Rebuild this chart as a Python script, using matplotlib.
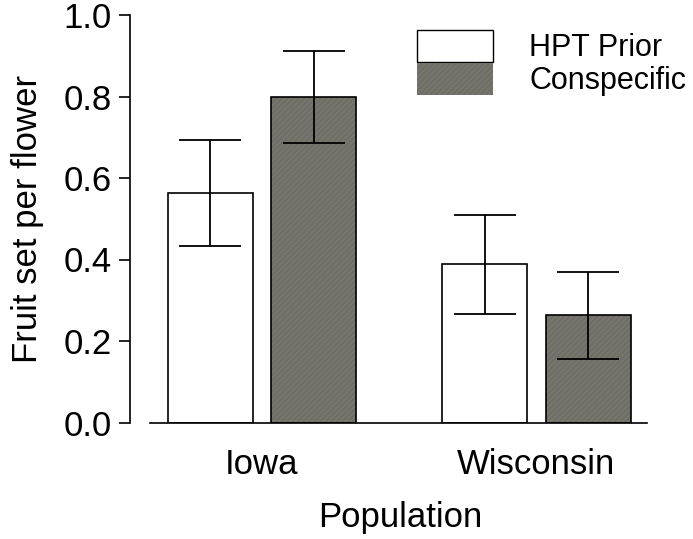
import numpy as np
import matplotlib
matplotlib.use("Agg")
import matplotlib.pyplot as plt
from matplotlib.patches import Patch

plt.rcParams['font.family'] = ['Liberation Sans', 'DejaVu Sans']
plt.rcParams['hatch.linewidth'] = 0.6

# data
populations = ['Iowa', 'Wisconsin']
treatments = ['HPT Prior', 'Conspecific']
hpt_prior = np.array([0.563, 0.388])
hpt_err = np.array([0.131, 0.122])
conspecific = np.array([0.799, 0.263])
consp_err = np.array([0.112, 0.107])

gray = '#6f6f67'

fig = plt.figure(figsize=(6.93, 5.39), dpi=100)
# axes: spine at x=130, 0 at y=422.5, 1.0 at y=15
ax = fig.add_axes([130 / 693, 1 - 422.5 / 539, (647 - 130) / 693, (422.5 - 15) / 539])

x = np.arange(len(populations))
w = 0.31
off = 0.189

# white bars
ax.bar(x - off, hpt_prior, w, color='white', edgecolor='black', linewidth=1.2)
# gray bars with faint diagonal texture
ax.bar(x + off, conspecific, w, color=gray, edgecolor='#7e7e76', hatch='//////', linewidth=0)
ax.bar(x + off, conspecific, w, color='none', edgecolor='black', linewidth=1.2)

ax.errorbar(x - off, hpt_prior, yerr=hpt_err, fmt='none', ecolor='black',
            elinewidth=1.3, capsize=22, capthick=1.3)
ax.errorbar(x + off, conspecific, yerr=consp_err, fmt='none', ecolor='black',
            elinewidth=1.3, capsize=22, capthick=1.3)

# data limits chosen so the groups sit at x=262 and x=536 px
ax.set_xlim(-0.481, 1.403)
ax.set_ylim(0, 1.0)
ax.set_yticks([0.0, 0.2, 0.4, 0.6, 0.8, 1.0])
ax.set_yticklabels(['0.0', '0.2', '0.4', '0.6', '0.8', '1.0'])
ax.set_xticks(x)
ax.set_xticklabels(populations)

ax.spines['top'].set_visible(False)
ax.spines['right'].set_visible(False)
ax.spines['bottom'].set_bounds(-0.408, 1.403)
ax.spines['left'].set_linewidth(1.2)
ax.spines['bottom'].set_linewidth(1.2)
ax.tick_params(axis='y', direction='out', length=8, width=1.2, labelsize=25, pad=5)
ax.tick_params(axis='x', length=0, labelsize=25, pad=18)

ax.set_xlabel('Population', fontsize=25, labelpad=15, x=0.522)
ax.set_ylabel('Fruit set per flower', fontsize=25, labelpad=14)

handles = [Patch(facecolor='white', edgecolor='black', linewidth=1.0),
           Patch(facecolor=gray, edgecolor='#7e7e76', hatch='//////', linewidth=0)]
ax.legend(handles, treatments, loc='upper left', bbox_to_anchor=(287 / 517, 0.962),
          frameon=False, fontsize=22, handlelength=2.48, handleheight=1.2,
          handletextpad=1.2, labelspacing=0.0, borderpad=0, borderaxespad=0)

fig.savefig('out.png', dpi=100)
